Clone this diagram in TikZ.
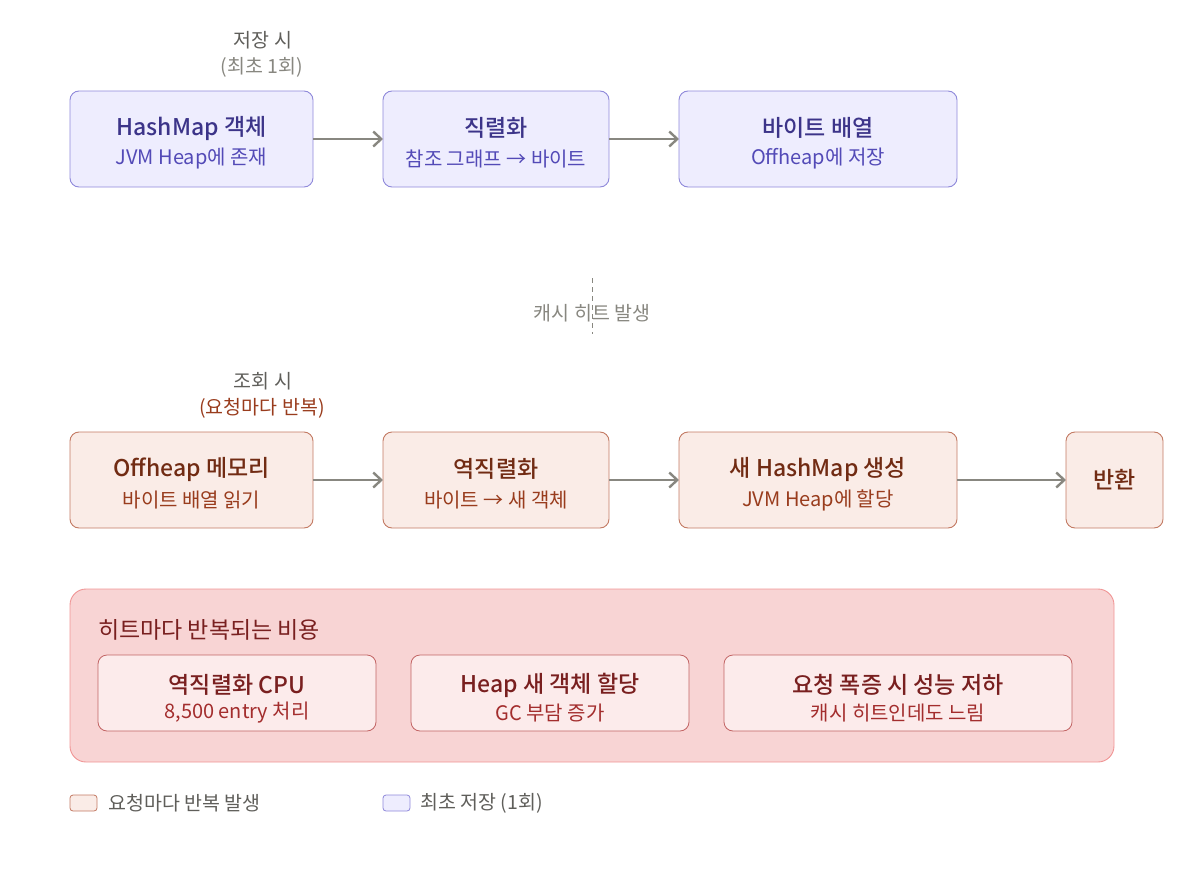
\documentclass[tikz,border=0pt]{standalone}
\usepackage{fontspec}
\setmainfont{Noto Sans CJK KR}[BoldFont={* Medium}]
\usetikzlibrary{arrows.meta}
\definecolor{pfill}{HTML}{EEEDFE}
\definecolor{pdraw}{HTML}{8F89DA}
\definecolor{ptitle}{HTML}{3C3489}
\definecolor{psub}{HTML}{534AB7}
\definecolor{ofill}{HTML}{FAECE7}
\definecolor{odraw}{HTML}{C37A63}
\definecolor{otitle}{HTML}{712B13}
\definecolor{osub}{HTML}{993C1D}
\definecolor{rfill}{HTML}{F8D4D4}
\definecolor{rdraw}{HTML}{F09595}
\definecolor{rinfill}{HTML}{FCEBEB}
\definecolor{rindraw}{HTML}{C26464}
\definecolor{rtitle}{HTML}{791F1F}
\definecolor{rsub}{HTML}{A32D2D}
\definecolor{garrow}{HTML}{888780}
\definecolor{gtext}{HTML}{5F5E5A}
\definecolor{gtext2}{HTML}{888780}
\tikzset{
  pbox/.style={draw=pdraw, fill=pfill, rounded corners=9pt, line width=0.9pt},
  obox/.style={draw=odraw, fill=ofill, rounded corners=9pt, line width=0.9pt},
  rbox/.style={draw=rindraw, fill=rinfill, rounded corners=9pt, line width=0.8pt},
  flow/.style={draw=garrow, line width=2.4pt, -{Straight Barb[length=8pt,width=15pt,line width=2.4pt]}},
  ttl/.style={font=\fontsize{23}{26}\selectfont\bfseries, anchor=center, inner sep=0pt},
  sub/.style={font=\fontsize{20}{23}\selectfont, anchor=center, inner sep=0pt},
  lbl/.style={font=\fontsize{19.5}{22}\selectfont, anchor=center, inner sep=0pt}
}
\begin{document}
\begin{tikzpicture}[x=1pt,y=-1pt]
\useasboundingbox (0,0) rectangle (1184,870);
% top labels
\node[lbl, text=gtext] (l1) at (263,40) {저장 시};
\node[lbl, text=gtext2] (l2) at (262,67) {(최초 1회)};
% top row
\draw[pbox] (70,91) rectangle (313,187);
\coordinate (a1r) at (313,139);
\node[ttl, text=ptitle] (a1t) at (191.5,128) {HashMap 객체};
\node[sub, text=psub] (a1s) at (191.5,159) {JVM Heap에 존재};
\draw[pbox] (383,91) rectangle (609,187);
\coordinate (a2l) at (383,139);
\coordinate (a2r) at (609,139);
\node[ttl, text=ptitle] (a2t) at (496,128) {직렬화};
\node[sub, text=psub] (a2s) at (496,159) {참조 그래프 → 바이트};
\draw[pbox] (679,91) rectangle (957,187);
\coordinate (a3l) at (679,139);
\node[ttl, text=ptitle] (a3t) at (818,128) {바이트 배열};
\node[sub, text=psub] (a3s) at (818,159) {Offheap에 저장};
\draw[flow] (a1r) -- (a2l);
\draw[flow] (a2r) -- (a3l);
% divider
\coordinate (d1) at (592,278);
\coordinate (d2) at (592,334);
\draw[gtext2, line width=1pt, dash pattern=on 5pt off 4pt] (d1) -- (d2);
\node[lbl, text=gtext2] (dl) at (592,313) {캐시 히트 발생};
% mid labels
\node[lbl, text=gtext] (m1) at (263,381) {조회 시};
\node[lbl, text=osub] (m2) at (262,408) {(요청마다 반복)};
% mid row
\draw[obox] (70,432) rectangle (313,528);
\coordinate (b1r) at (313,480);
\node[ttl, text=otitle] (b1t) at (191.5,469) {Offheap 메모리};
\node[sub, text=osub] (b1s) at (191.5,500) {바이트 배열 읽기};
\draw[obox] (383,432) rectangle (609,528);
\coordinate (b2l) at (383,480);
\coordinate (b2r) at (609,480);
\node[ttl, text=otitle] (b2t) at (496,469) {역직렬화};
\node[sub, text=osub] (b2s) at (496,500) {바이트 → 새 객체};
\draw[obox] (679,432) rectangle (957,528);
\coordinate (b3l) at (679,480);
\coordinate (b3r) at (957,480);
\node[ttl, text=otitle] (b3t) at (818,469) {새 HashMap 생성};
\node[sub, text=osub] (b3s) at (818,500) {JVM Heap에 할당};
\draw[obox] (1066,432) rectangle (1163,528);
\coordinate (b4l) at (1066,480);
\node[ttl, text=otitle] (b4t) at (1114.5,480) {반환};
\draw[flow] (b1r) -- (b2l);
\draw[flow] (b2r) -- (b3l);
\draw[flow] (b3r) -- (b4l);
% red panel
\draw[draw=rdraw, fill=rfill, rounded corners=16pt, line width=0.9pt] (70,589) rectangle (1114,762);
\node[font=\fontsize{23}{26}\selectfont, text=rtitle, anchor=west, inner sep=0pt] (pt) at (98,630) {히트마다 반복되는 비용};
\draw[rbox] (98,655) rectangle (376,731);
\node[ttl, text=rtitle] (c1t) at (237,685) {역직렬화 CPU};
\node[sub, text=rsub] (c1s) at (237,713) {8,500 entry 처리};
\draw[rbox] (411,655) rectangle (689,731);
\node[ttl, text=rtitle] (c2t) at (550,685) {Heap 새 객체 할당};
\node[sub, text=rsub] (c2s) at (550,713) {GC 부담 증가};
\draw[rbox] (724,655) rectangle (1072,731);
\node[ttl, text=rtitle] (c3t) at (898,685) {요청 폭증 시 성능 저하};
\node[sub, text=rsub] (c3s) at (898,713) {캐시 히트인데도 느림};
% legend
\draw[obox, rounded corners=3pt, line width=0.8pt] (70,795) rectangle (97,811);
\node[lbl, text=gtext, anchor=west] (lg1) at (108,803) {요청마다 반복 발생};
\draw[pbox, rounded corners=3pt, line width=0.8pt] (383,795) rectangle (410,811);
\node[lbl, text=gtext, anchor=west] (lg2) at (420,803) {최초 저장 (1회)};
\end{tikzpicture}
\end{document}
